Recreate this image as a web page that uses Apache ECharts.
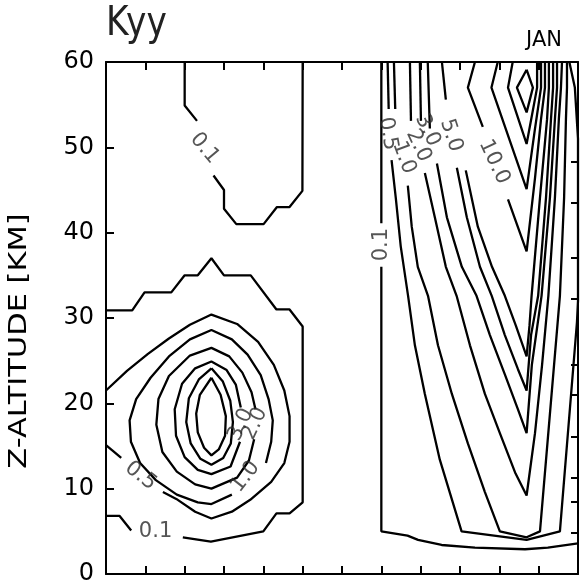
<!DOCTYPE html>
<html>
<head>
<meta charset="utf-8">
<script src="https://cdn.jsdelivr.net/npm/echarts@6/dist/echarts.min.js"></script>
<style>
html,body{margin:0;padding:0;background:#ffffff;}
#chart{width:582px;height:586px;}
</style>
</head>
<body>
<div id="chart"></div>
<script>
// ---------------- axes / ticks ----------------
const latRange = [-90, 90];
const latStep = 15;
const altRange = [0, 60];
const altStep = 10;
const pressureTicksHPa = [500, 300, 200, 100, 50, 30, 10, 5, 2, 1];
const scaleHeightKm = 7;
const titleText = 'Kyy';
const monthText = 'JAN';
const yAxisTitle = 'Z-ALTITUDE [KM]';

// ---------------- contour lines [latitude, altitude km] ----------------
// southern (left) part
const k01_sTop_a = [[-60,60],[-60,54.9],[-55.3,53.1]];
const k01_sTop_b = [[-49,46.7],[-45,45],[-45,42.8],[-40.3,41],[-29.9,41],[-24.8,43],[-20,43],[-15.1,44.9],[-15,60]];
const k01_sLow_a = [[-90,30.9],[-80,30.9],[-75.3,33],[-65.1,33],[-60,35],[-55,35],[-49.8,37],[-45,35],[-34.8,35],[-25,31],[-20,31],[-15,29],[-15,8.4],[-20,7.1],[-25,7.1],[-30,5],[-50,3.8],[-60.7,4.3]];
const k01_sLow_b = [[-80.4,5.1],[-84.8,6.8],[-90,6.8]];
const k05_s_a = [[-68.3,9.6],[-63.2,8.8],[-56,7.3],[-49.8,6.5],[-42,7.3],[-35,8.7],[-27,10.8],[-22,13],[-20,15.5],[-20,18.5],[-22,21.5],[-26,24.5],[-32,27.2],[-40,29.3],[-49.8,30.4],[-58,29.2],[-66,27.6],[-74,25.8],[-82,23.8],[-90,21.5]];
const k05_s_b = [[-84.2,13.6],[-90,15.1]];
const k1_s = [[-42,9.3],[-49.8,8.2],[-55,8.4],[-63,9.3],[-71,11],[-77,13],[-80.5,15.5],[-81,18],[-78.5,20.5],[-73,23],[-66,25.5],[-58,27.5],[-49.8,28.6],[-42,27.5],[-36,25.7],[-31,23.3],[-28,20.5],[-26.4,18],[-27,15.5],[-29,13]];
const k2_s = [[-33.5,15.8],[-35.5,13.3],[-40,11.3],[-49.8,10.0],[-56,10.5],[-63,12],[-68.5,14.3],[-70.8,17.5],[-70,20.5],[-66,23.2],[-58,25.6],[-49.8,26.5],[-43,25.5],[-38,23.6],[-34.5,21.3],[-33,19.3]];
const k3_s = [[-38.9,15.5],[-42.5,12.6],[-49.8,11.7],[-55,12.2],[-60,13.7],[-63.3,16.2],[-63.8,19.3],[-61,22.3],[-56,24.1],[-49.8,24.9],[-44,23.9],[-40.5,22.2],[-38.6,19.5]];
const k5_s = [[-49.8,24.1],[-45.5,22.6],[-42.6,20.3],[-41.6,17.8],[-42.4,15.3],[-45.3,13.6],[-49.8,12.8],[-54,13.5],[-57.7,15.3],[-59.4,17.8],[-58.4,20.6],[-54.6,22.8],[-49.8,24.1]];
const k10_s = [[-49.8,23.0],[-46.3,21.0],[-44.3,18.5],[-44.6,16.2],[-47,14.6],[-49.8,13.9],[-52.6,14.8],[-55,16.6],[-55.6,18.8],[-54.2,21.0],[-49.8,23.0]];

// northern (right) part
const k01_n_a = [[15,60],[15,41.1]];
const k01_n_b = [[15,36.0],[15,5.0],[25,4.5],[29,4.0],[38,3.4],[50.7,3.1],[69.8,2.9],[78.5,3.1],[90,3.6]];
const k05_n_a = [[17.4,60],[17.8,54.5]];
const k05_n_b = [[18.9,48.5],[20.5,44.1],[22.4,38.4],[25.2,32.6],[27.8,26.8],[31.6,21.1],[37.3,13.4],[45.6,5.0],[70.4,4.0],[83.1,5.0],[89.6,29.5],[90,32],[90,51],[88.8,57],[86.7,60]];
const k1_n_a = [[19.8,60],[20.3,54.5]];
const k1_n_b = [[25.1,45.5],[26.6,40.7],[28.9,36.0],[32.8,32.6],[36.6,26.8],[41.9,21.1],[48.0,15.3],[54.5,9.6],[60.2,5.0],[70.4,4.3],[75.5,5.0],[79.3,18.8],[83.1,32.6],[84.7,44.1],[85.4,53.3],[85.8,57],[85.8,60]];
const k2_n_a = [[25.9,60],[26.3,53.1]];
const k2_n_b = [[31.6,47.0],[35.4,41.8],[39.6,36.0],[43.7,32.6],[48.8,26.8],[54.5,21.1],[60.2,16.5],[66.0,11.9],[70.4,9.2],[73.6,16.5],[76.3,24.5],[78.7,32.6],[81.2,44.1],[82.7,53.3],[83.5,57],[83.9,60]];
const k3_n_a = [[29.7,60],[30.1,53.1]];
const k3_n_b = [[36.2,48.1],[40.0,41.8],[45.7,36.0],[51.3,32.6],[56.4,28.0],[62.1,23.4],[67.1,19.3],[70.4,16.5],[72.4,24.5],[76.1,32.6],[79.3,44.1],[81.2,53.3],[82.0,57],[82.0,60]];
const k5_n_a = [[32.7,60],[33.5,52.2]];
const k5_n_b = [[43.8,47.6],[47.6,41.8],[52.6,36.0],[57.1,32.6],[62.1,28.0],[67.1,24.0],[70.4,21.5],[72.1,28.0],[74.8,32.6],[77.8,44.1],[79.7,53.3],[80.5,57],[80.5,60]];
const k7_n_a = [[38.1,60],[39.6,55.6]];
const k7_n_b = [[47.2,47.3],[51.8,40.7],[57.2,36.0],[62.1,32.6],[66.3,29.1],[70.4,25.5],[71.5,29.1],[72.3,32.6],[75.5,44.1],[78.2,53.3],[78.9,57],[78.9,60]];
const k10_n_a = [[50.7,60],[48.0,57.0],[53.7,52.4]];
const k10_n_b = [[63.3,43.9],[70.4,37.8],[73.6,46.4],[75.9,53.3],[77.4,57.0],[77.4,60]];
const k20_n = [[59.4,60],[57.0,57.0],[70.4,45.1],[73.6,52.2],[75.9,57.0],[75.9,60]];
const k30_n = [[65.1,60],[63.3,57.0],[70.4,50.4],[74.4,57.0],[74.4,60]];
const k50_n = [[70.4,59.1],[66.7,57.0],[70.4,54.1],[72.8,57.0],[70.4,59.1]];

const contourSegments = [
  k01_sTop_a, k01_sTop_b, k01_sLow_a, k01_sLow_b, k05_s_a, k05_s_b, k1_s, k2_s, k3_s, k5_s, k10_s,
  k01_n_a, k01_n_b, k05_n_a, k05_n_b, k1_n_a, k1_n_b, k2_n_a, k2_n_b, k3_n_a, k3_n_b,
  k5_n_a, k5_n_b, k7_n_a, k7_n_b, k10_n_a, k10_n_b, k20_n, k30_n, k50_n
];

// contour labels: [latitude, altitude, text]
const contourLabels = [
  [-52.4, 49.9, '0.1'],
  [-71.1, 5.0, '0.1'],
  [-76.8, 11.5, '0.5'],
  [-36.8, 11.4, '1.0'],
  [-33.2, 17.6, '2.0'],
  [-38.6, 17.5, '3.0'],
  [15.2, 38.6, '0.1'],
  [17.5, 51.6, '0.5'],
  [23.6, 48.8, '1.0'],
  [29.2, 50.2, '2.0'],
  [32.6, 52.0, '3.0'],
  [41.6, 51.4, '5.0'],
  [58.0, 48.3, '10.0']
];
const contourLabelAngles = [-50, 0, -38, 52, 65, 65, 90, -80, -70, -65, -65, -72, -65];

// ---------------- build chart ----------------
const pressureAlts = pressureTicksHPa.map(p => scaleHeightKm * Math.log(1000 / p));
const black = '#000000';
const FONT = "'DejaVu Sans', 'Liberation Sans', sans-serif";

const series = contourSegments.map(seg => ({
  type: 'line',
  data: seg,
  xAxisIndex: 0,
  yAxisIndex: 0,
  symbol: 'none',
  showSymbol: false,
  clip: true,
  silent: true,
  lineStyle: { color: black, width: 2.3 },
  z: 3
}));

series.push({
  type: 'scatter',
  xAxisIndex: 0,
  yAxisIndex: 0,
  symbolSize: 0,
  silent: true,
  z: 4,
  data: contourLabels.map((d, i) => ({
    value: [d[0], d[1]],
    label: {
      show: true,
      position: 'inside',
      formatter: d[2],
      rotate: contourLabelAngles[i],
      fontFamily: FONT,
      fontSize: 21,
      color: '#2a2a2a',
      align: 'center',
      verticalAlign: 'middle'
    }
  }))
});

const baseX = {
  type: 'value', min: latRange[0], max: latRange[1], interval: latStep,
  axisLine: { show: true, onZero: false, lineStyle: { color: black, width: 2 } },
  axisTick: { show: true, inside: true, length: 8, lineStyle: { color: black, width: 2 } },
  axisLabel: { show: false },
  splitLine: { show: false }
};

const option = {
  backgroundColor: '#ffffff',
  animation: false,
  grid: { left: 106, top: 62, right: 4, bottom: 3, containLabel: false },
  xAxis: [
    Object.assign({}, baseX, { position: 'bottom' }),
    Object.assign({}, baseX, { position: 'top' })
  ],
  yAxis: [
    {
      type: 'value', min: altRange[0], max: altRange[1], interval: altStep, position: 'left',
      axisLine: { show: true, onZero: false, lineStyle: { color: black, width: 2 } },
      axisTick: { show: true, inside: true, length: 8, lineStyle: { color: black, width: 2 } },
      axisLabel: { show: true, color: black, fontFamily: FONT, fontSize: 24, margin: 12 },
      splitLine: { show: false }
    },
    {
      type: 'value', min: altRange[0], max: altRange[1], position: 'right',
      axisLine: { show: true, onZero: false, lineStyle: { color: black, width: 2 } },
      axisTick: { show: true, inside: true, length: 7, customValues: pressureAlts, lineStyle: { color: black, width: 2 } },
      axisLabel: { show: false },
      splitLine: { show: false }
    }
  ],
  graphic: [
    {
      type: 'text', x: 106, y: 4, scaleX: 0.84,
      style: { text: titleText, fontFamily: FONT, fontSize: 41, fill: '#222222', textAlign: 'left', textVerticalAlign: 'top' }
    },
    {
      type: 'text', x: 562, y: 30,
      style: { text: monthText, fontFamily: FONT, fontSize: 21, fill: black, textAlign: 'right', textVerticalAlign: 'top' }
    },
    {
      type: 'text', x: 20, y: 341, rotation: Math.PI / 2, scaleX: 1.27,
      style: { text: yAxisTitle, fontFamily: FONT, fontSize: 24, fill: black, textAlign: 'center', textVerticalAlign: 'middle' }
    }
  ],
  series: series
};

const chart = echarts.init(document.getElementById('chart'), null, { renderer: 'canvas' });
chart.setOption(option);
</script>
</body>
</html>
